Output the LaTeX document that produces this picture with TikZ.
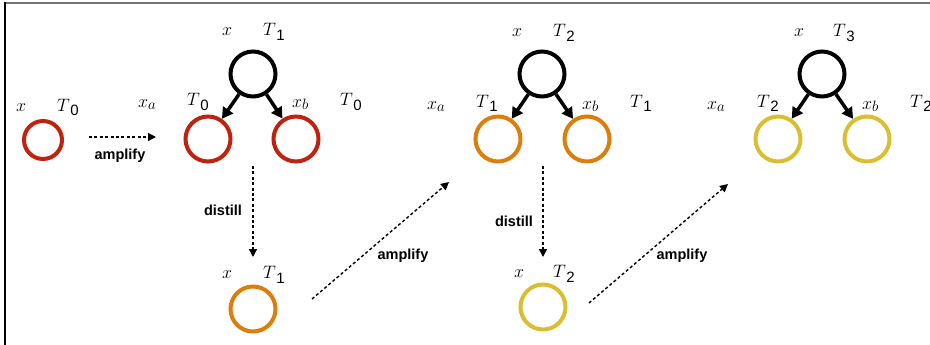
\RequirePackage{fix-cm}
\documentclass[tikz,border=0pt]{standalone}
\usepackage{fontspec}
\setmainfont{Liberation Serif}
\setsansfont{Liberation Sans}
\usetikzlibrary{arrows.meta}
\definecolor{cred}{RGB}{190,35,15}
\definecolor{corange}{RGB}{220,126,12}
\definecolor{cyellow}{RGB}{218,190,50}
\newcommand\lvT[1]{$T$\hspace{0.5pt}\raisebox{-5pt}{\fontsize{15}{15}\selectfont\sffamily #1}}
\newcommand\lvX[1]{$x$\raisebox{-1.5pt}{\fontsize{15}{15}\selectfont $#1$}}
\newcommand\lvx{$x$}
\begin{document}
\begin{tikzpicture}[x=1pt,y=-1pt,
  lbl/.style={inner sep=0pt, anchor=base west, font=\fontsize{18}{20}\selectfont},
  ring/.style={circle, minimum size=45pt, inner sep=0pt, line width=4pt},
  smallring/.style={circle, minimum size=38pt, inner sep=0pt, line width=4pt},
  treearr/.style={line width=3.5pt, -{Triangle[length=11pt,width=12pt]}},
  flow/.style={line width=1.4pt, dash pattern=on 3pt off 2.4pt, -{Triangle[length=8pt,width=8pt]}},
  flowlbl/.style={font=\sffamily\bfseries\fontsize{14.5}{16}\selectfont, inner sep=0pt, anchor=base}]
\useasboundingbox (0,0) rectangle (930,345);
\clip (0,0) rectangle (930,345);
% frame
\draw[line width=2pt, black!55] (5,3) -- (931,3);
\draw[line width=2pt, black] (5,2) -- (5,346);

% start node
\node[smallring, draw=cred] (s0) at (43,140) {};
\node[lbl] (s0x) at (16,112) {\lvx};
\node[lbl] (s0t) at (57,111) {\lvT{0}};

% tree 1
\node[ring, draw=black] (t1) at (253,74) {};
\node[ring, draw=cred] (t1a) at (208,139) {};
\node[ring, draw=cred] (t1b) at (296,139) {};
\node[lbl] (t1x) at (222,36) {\lvx};
\node[lbl] (t1t) at (263,36) {\lvT{1}};
\node[lbl] (t1xa) at (138,108) {\lvX{a}};
\node[lbl] (t1ta) at (187,106) {\lvT{0}};
\node[lbl] (t1xb) at (292,108) {\lvX{b}};
\node[lbl] (t1tb) at (340,106) {\lvT{0}};
\draw[treearr] (t1) -- (t1a);
\draw[treearr] (t1) -- (t1b);

% distilled 1
\node[ring, draw=corange] (d1) at (253,309) {};
\node[lbl] (d1x) at (222,278) {\lvx};
\node[lbl] (d1t) at (263,278) {\lvT{1}};

% tree 2
\node[ring, draw=black] (t2) at (542,74) {};
\node[ring, draw=corange] (t2a) at (498,139) {};
\node[ring, draw=corange] (t2b) at (587,139) {};
\node[lbl] (t2x) at (512,37) {\lvx};
\node[lbl] (t2t) at (553,37) {\lvT{2}};
\node[lbl] (t2xa) at (427,110) {\lvX{a}};
\node[lbl] (t2ta) at (476,107) {\lvT{1}};
\node[lbl] (t2xb) at (582,110) {\lvX{b}};
\node[lbl] (t2tb) at (630,107) {\lvT{1}};
\draw[treearr] (t2) -- (t2a);
\draw[treearr] (t2) -- (t2b);

% distilled 2
\node[ring, draw=cyellow] (d2) at (543,307) {};
\node[lbl] (d2x) at (514,277) {\lvx};
\node[lbl] (d2t) at (553,277) {\lvT{2}};

% tree 3
\node[ring, draw=black] (t3) at (822,74) {};
\node[ring, draw=cyellow] (t3a) at (778,139) {};
\node[ring, draw=cyellow] (t3b) at (867,139) {};
\node[lbl] (t3x) at (794,37) {\lvx};
\node[lbl] (t3t) at (833,37) {\lvT{3}};
\node[lbl] (t3xa) at (707,110) {\lvX{a}};
\node[lbl] (t3ta) at (757,107) {\lvT{2}};
\node[lbl] (t3xb) at (862,110) {\lvX{b}};
\node[lbl] (t3tb) at (910,107) {\lvT{2}};
\draw[treearr] (t3) -- (t3a);
\draw[treearr] (t3) -- (t3b);

% flow arrows
\coordinate (a1s) at (89,137);
\coordinate (a1e) at (156,137);
\draw[flow] (a1s) -- (a1e);
\node[flowlbl] (a1l) at (120,160) {amplify};

\coordinate (ds1) at (253,166);
\coordinate (de1) at (253,257);
\draw[flow] (ds1) -- (de1);
\node[flowlbl] (dl1) at (223,215) {distill};

\coordinate (a2s) at (312,299);
\coordinate (a2e) at (449,182);
\draw[flow] (a2s) -- (a2e);
\node[flowlbl] (a2l) at (403,259) {amplify};

\coordinate (ds2) at (543,166);
\coordinate (de2) at (543,257);
\draw[flow] (ds2) -- (de2);
\node[flowlbl] (dl2) at (514,226) {distill};

\coordinate (a3s) at (589,303);
\coordinate (a3e) at (728,184);
\draw[flow] (a3s) -- (a3e);
\node[flowlbl] (a3l) at (682,259) {amplify};
\end{tikzpicture}
\end{document}
